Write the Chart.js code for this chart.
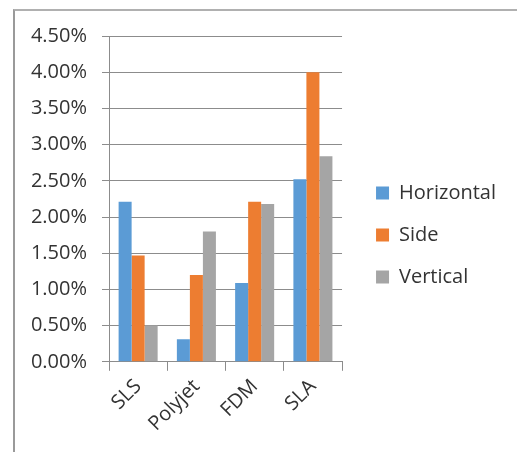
<!DOCTYPE html>
<html>
<head>
<meta charset="utf-8">
<script src="https://cdn.jsdelivr.net/npm/chart.js@4"></script>
<style>
  html, body { margin: 0; padding: 0; background: #fff; }
  #frame {
    position: absolute; left: 13px; top: 9px; width: 520px; height: 460px;
    border-left: 2px solid #9a9a9a; border-top: 2px solid #b0b0b0;
  }
  #wrap { position: absolute; left: 0; top: 0; width: 517px; height: 452px; }
</style>
</head>
<body>
<div id="frame"></div>
<div id="wrap"><canvas id="chart"></canvas></div>
<script>
// values, in percent
const categories = ['SLS', 'Polyjet', 'FDM', 'SLA'];
const horizontal = [2.21, 0.31, 1.09, 2.52];
const side = [1.47, 1.20, 2.21, 4.00];
const vertical = [0.50, 1.80, 2.18, 2.84];
const seriesNames = ['Horizontal', 'Side', 'Vertical'];
const colors = ['#5B9BD5', '#ED7D31', '#A5A5A5'];

const gridColor = '#8c8c8c';
const textColor = '#333333';
const font = "'Open Sans'";

var data = {
  labels: categories,
  datasets: [horizontal, side, vertical].map(function (vals, i) {
    return {
      label: seriesNames[i],
      data: vals,
      backgroundColor: colors[i],
      borderWidth: 0,
      categoryPercentage: 0.67,
      barPercentage: 1.0
    };
  })
};

// empty axis on the right, only to leave the gap before the legend
var spacer = {
  position: 'right',
  display: true,
  grid: { display: false },
  border: { display: false },
  ticks: { display: false },
  afterFit: function (s) { s.width = 12; }
};

var options = {
  responsive: false,
  animation: false,
  devicePixelRatio: 1,
  layout: { padding: { left: 31, top: 36, right: 11, bottom: 18 } },
  plugins: {
    tooltip: { enabled: false },
    legend: {
      position: 'right',
      maxWidth: 220,
      labels: {
        boxWidth: 13,
        boxHeight: 13,
        padding: 22,
        color: textColor,
        font: { family: font, size: 20 }
      }
    }
  },
  scales: {
    x: {
      offset: true,
      afterFit: function (s) { s.height = s.height - 6; },
      grid: {
        display: true,
        offset: true,
        drawOnChartArea: false,
        drawTicks: true,
        tickLength: 9,
        color: gridColor
      },
      border: { display: true, color: gridColor, width: 1 },
      ticks: {
        maxRotation: 45,
        minRotation: 45,
        color: textColor,
        padding: 4,
        font: { family: font, size: 20 }
      }
    },
    y: {
      min: 0,
      max: 4.5,
      afterFit: function (s) { s.width = 78; },
      grid: { color: gridColor, tickLength: 7, lineWidth: 1 },
      border: { display: true, color: gridColor, width: 1 },
      ticks: {
        stepSize: 0.5,
        color: textColor,
        padding: 15,
        font: { family: font, size: 20 },
        callback: function (v) { return v.toFixed(2) + '%'; }
      }
    },
    gap: spacer
  }
};

function draw() {
  var canvas = document.getElementById('chart');
  canvas.width = 517;
  canvas.height = 452;
  new Chart(canvas, { type: 'bar', data: data, options: options });
}

if (document.fonts && document.fonts.load) {
  document.fonts.load("20px 'Open Sans'").then(draw, draw);
} else {
  draw();
}
</script>
</body>
</html>
